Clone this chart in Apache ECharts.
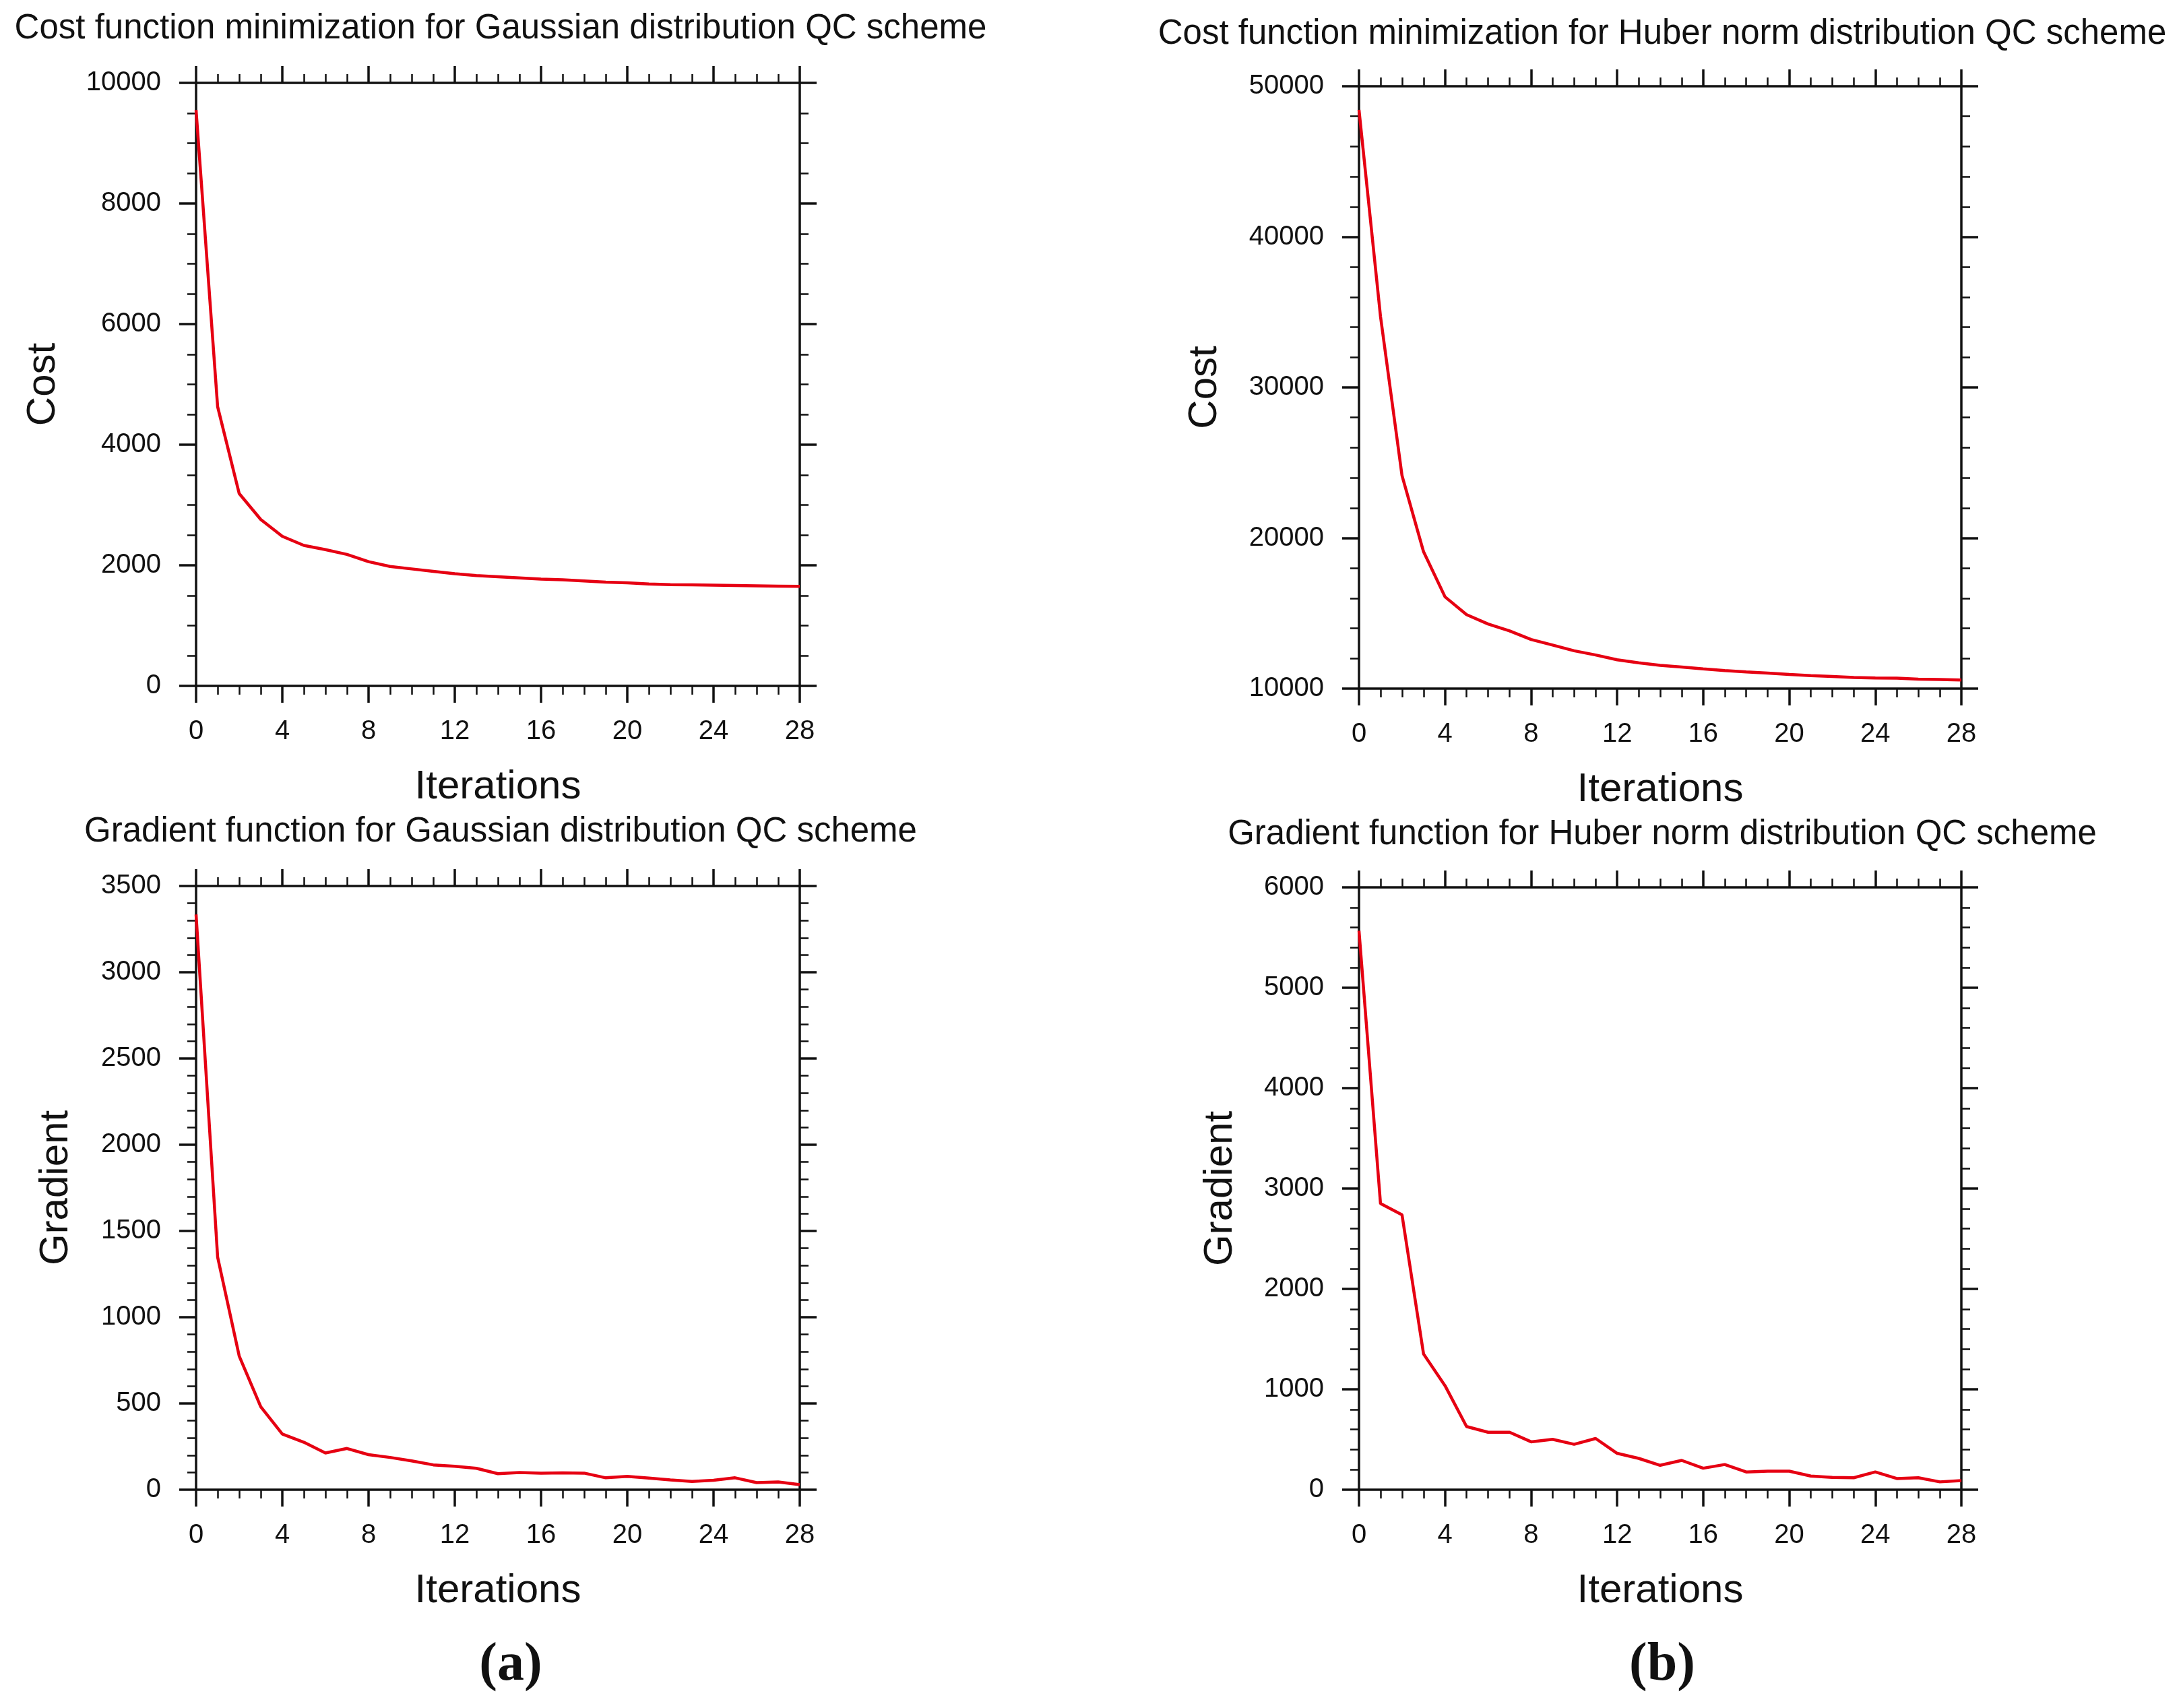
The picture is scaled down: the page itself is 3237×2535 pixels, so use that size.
<!DOCTYPE html>
<html>
<head>
<meta charset="utf-8">
<script src="https://cdn.jsdelivr.net/npm/echarts@6/dist/echarts.min.js"></script>
<style>
  html, body { margin: 0; padding: 0; background: #fff; }
  #chart { width: 3237px; height: 2535px; }
</style>
</head>
<body>
<div id="chart"></div>
<script>
// Data
var iterations = [0, 1, 2, 3, 4, 5, 6, 7, 8, 9, 10, 11, 12, 13, 14, 15, 16, 17, 18, 19, 20, 21, 22, 23, 24, 25, 26, 27, 28];
var xTicks = [0, 4, 8, 12, 16, 20, 24, 28];

var gaussCost = [9550, 4630, 3190, 2760, 2480, 2330, 2260, 2180, 2060, 1980, 1940, 1900, 1860, 1830, 1810,
  1790, 1770, 1760, 1740, 1720, 1710, 1690, 1680, 1675, 1670, 1665, 1660, 1655, 1650];
var huberCost = [48430, 34710, 24140, 19090, 16090, 14910, 14290, 13830, 13260, 12890, 12510, 12230, 11910, 11710, 11540,
  11430, 11310, 11200, 11110, 11030, 10940, 10860, 10800, 10740, 10710, 10690, 10630, 10600, 10570];
var gaussGrad = [3335, 1349, 775, 481, 323, 275, 213, 239, 203, 187, 167, 144, 136, 124, 93,
  100, 96, 98, 96, 69, 77, 67, 57, 48, 55, 69, 41, 45, 29];
var huberGrad = [5568, 2850, 2738, 1353, 1036, 629, 572, 572, 477, 502, 452, 510, 362, 312, 243,
  292, 214, 251, 177, 185, 185, 136, 123, 119, 177, 111, 119, 78, 90];

var panelTitles = [
  'Cost function minimization for Gaussian distribution QC scheme',
  'Cost function minimization for Huber norm distribution QC scheme',
  'Gradient function for Gaussian distribution QC scheme',
  'Gradient function for Huber norm distribution QC scheme'
];
var yNames = ['Cost', 'Cost', 'Gradient', 'Gradient'];
var yRanges = [[0, 10000, 2000, 4], [10000, 50000, 10000, 5], [0, 3500, 500, 5], [0, 6000, 1000, 5]];
var subLabels = ['(a)', '(b)'];

var chart = echarts.init(document.getElementById('chart'));

var FONT = '"Liberation Sans", Arial, Helvetica, sans-serif';
var INK = '#111';
var RED = '#e60012';

var grids = [
  { left: 291, top: 123, width: 896, height: 895 },
  { left: 2017, top: 128, width: 894, height: 894 },
  { left: 291, top: 1315, width: 896, height: 896 },
  { left: 2017, top: 1317, width: 894, height: 894 }
];
var yNameGaps = [197, 199, 178, 176];
var titlePos = [[743, 43], [2467, 51], [743, 1235], [2467, 1239]];

var tickStyle = { show: true, length: 25, lineStyle: { color: INK, width: 3.5 } };
function minor(n) {
  return { show: true, splitNumber: n, length: 13, lineStyle: { color: INK, width: 2.5 } };
}
var lineStyle = { show: true, onZero: false, lineStyle: { color: INK, width: 3.5 } };

var xAxes = [], yAxes = [], series = [], graphics = [];
var seriesData = [gaussCost, huberCost, gaussGrad, huberGrad];

for (var i = 0; i < 4; i++) {
  // bottom + top x axis
  xAxes.push({
    type: 'value', gridIndex: i, position: 'bottom',
    min: xTicks[0], max: xTicks[xTicks.length - 1], interval: 4,
    name: 'Iterations', nameLocation: 'middle', nameGap: 120,
    nameTextStyle: { fontFamily: FONT, fontSize: 60, color: INK },
    axisLine: lineStyle, axisTick: tickStyle, minorTick: minor(4),
    axisLabel: { fontFamily: FONT, fontSize: 40, color: INK, margin: 48 },
    splitLine: { show: false }
  });
  xAxes.push({
    type: 'value', gridIndex: i, position: 'top',
    min: xTicks[0], max: xTicks[xTicks.length - 1], interval: 4,
    axisLine: lineStyle, axisTick: tickStyle, minorTick: minor(4),
    axisLabel: { show: false }, splitLine: { show: false }
  });
  var r = yRanges[i];
  yAxes.push({
    type: 'value', gridIndex: i, position: 'left',
    min: r[0], max: r[1], interval: r[2],
    name: yNames[i], nameLocation: 'middle', nameGap: yNameGaps[i], nameRotate: 90,
    nameTextStyle: { fontFamily: FONT, fontSize: 60, color: INK },
    axisLine: lineStyle, axisTick: tickStyle, minorTick: minor(r[3]),
    axisLabel: { fontFamily: FONT, fontSize: 40, color: INK, margin: 52,
      formatter: function (v) { return String(v); } },
    splitLine: { show: false }
  });
  yAxes.push({
    type: 'value', gridIndex: i, position: 'right',
    min: r[0], max: r[1], interval: r[2],
    axisLine: lineStyle, axisTick: tickStyle, minorTick: minor(r[3]),
    axisLabel: { show: false }, splitLine: { show: false }
  });

  var pts = [];
  for (var k = 0; k < iterations.length; k++) pts.push([iterations[k], seriesData[i][k]]);
  series.push({
    type: 'line', xAxisIndex: i * 2, yAxisIndex: i * 2,
    data: pts, showSymbol: false, smooth: false,
    lineStyle: { color: RED, width: 4.5 }, itemStyle: { color: RED },
    animation: false
  });

  graphics.push({
    type: 'text', x: titlePos[i][0], y: titlePos[i][1],
    style: { text: panelTitles[i], fontFamily: FONT, fontSize: 51, fill: INK,
      textAlign: 'center', textVerticalAlign: 'middle' }
  });
}

graphics.push({
  type: 'text', x: 758, y: 2472,
  style: { text: subLabels[0], fontFamily: '"Liberation Serif", "DejaVu Serif", serif', fontWeight: 'bold',
    fontSize: 80, fill: INK, textAlign: 'center', textVerticalAlign: 'middle' }
});
graphics.push({
  type: 'text', x: 2467, y: 2472,
  style: { text: subLabels[1], fontFamily: '"Liberation Serif", "DejaVu Serif", serif', fontWeight: 'bold',
    fontSize: 80, fill: INK, textAlign: 'center', textVerticalAlign: 'middle' }
});

chart.setOption({
  backgroundColor: '#fff',
  animation: false,
  grid: grids,
  xAxis: xAxes,
  yAxis: yAxes,
  series: series,
  graphic: graphics
});

window.addEventListener('resize', function () {
  chart.resize();
});
</script>
</body>
</html>
